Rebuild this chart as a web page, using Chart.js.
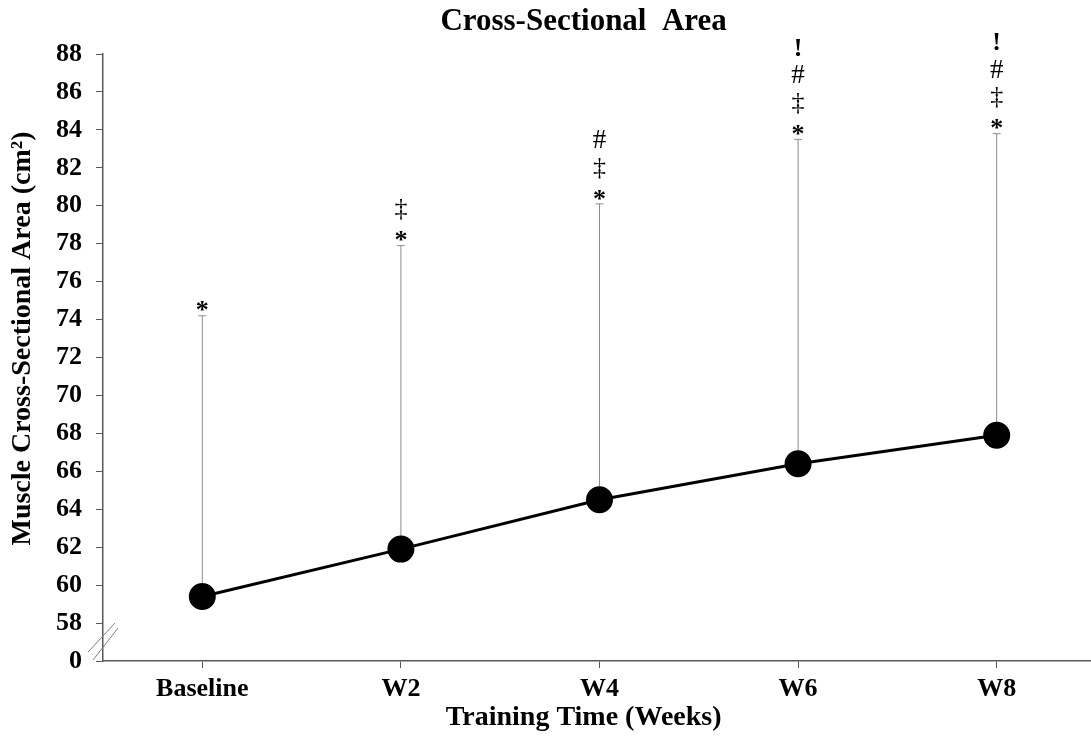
<!DOCTYPE html>
<html>
<head>
<meta charset="utf-8">
<script src="https://cdn.jsdelivr.net/npm/chart.js@4.4.1/dist/chart.umd.min.js"></script>
<style>
  html, body { margin: 0; padding: 0; background: #fff; overflow: hidden; }
  /* plot runs a few pixels past the right edge in the original */
  #wrap { width: 1096px; height: 736px; }
</style>
</head>
<body>
<div id="wrap"><canvas id="csa"></canvas></div>
<script>
const weeks = ['Baseline', 'W2', 'W4', 'W6', 'W8'];
const csaMean = [59.4, 61.9, 64.5, 66.4, 67.9];
const csaUpper = [74.2, 77.9, 80.1, 83.5, 83.8];
const sigMarks = [['*'], ['*', '\u2021'], ['*', '\u2021', '#'], ['*', '\u2021', '#', '!'], ['*', '\u2021', '#', '!']];
const yTicks = [56, 58, 60, 62, 64, 66, 68, 70, 72, 74, 76, 78, 80, 82, 84, 86, 88];
const yTickLabels = ['0', '58', '60', '62', '64', '66', '68', '70', '72', '74', '76', '78', '80', '82', '84', '86', '88'];
const chartTitle = 'Cross-Sectional  Area';
const xTitle = 'Training Time (Weeks)';
const yTitle = 'Muscle Cross-Sectional Area (cm\u00b2)';

const serif = "'Liberation Serif', 'Times New Roman', serif";
const axisColor = '#595959';

// font per symbol: * and ! are bold, the others plain
const markFont = {
    '*': 'bold 26px ',
    '!': 'bold 26px ',
    '#': '27px ',
    '\u2021': '26px '
};

// upward-only error bars plus the significance symbols above them
const errorBars = {
    id: 'errorBars',
    beforeDatasetsDraw(chart) {
        const ctx = chart.ctx;
        const meta = chart.getDatasetMeta(0);
        const y = chart.scales.y;
        ctx.save();
        ctx.strokeStyle = '#8c8c8c';
        ctx.lineWidth = 1;
        meta.data.forEach((pt, i) => {
            const top = y.getPixelForValue(csaUpper[i]);
            ctx.beginPath();
            ctx.moveTo(pt.x, pt.y);
            ctx.lineTo(pt.x, top);
            ctx.moveTo(pt.x - 4, top);
            ctx.lineTo(pt.x + 4, top);
            ctx.stroke();
        });
        ctx.restore();
    },
    afterDatasetsDraw(chart) {
        const ctx = chart.ctx;
        const meta = chart.getDatasetMeta(0);
        const y = chart.scales.y;
        ctx.save();
        ctx.fillStyle = '#000';
        ctx.textAlign = 'center';
        ctx.textBaseline = 'middle';
        meta.data.forEach((pt, i) => {
            const top = y.getPixelForValue(csaUpper[i]);
            sigMarks[i].forEach((s, j) => {
                ctx.font = markFont[s] + serif;
                const dy = s === '*' ? 4 : 9;
                ctx.fillText(s, pt.x, top - dy - j * 27);
            });
        });
        ctx.restore();
    }
};

// axis break marks and the three titles (the originals sit off-centre)
const decorations = {
    id: 'decorations',
    afterDraw(chart) {
        const ctx = chart.ctx;
        const xs = chart.scales.x;
        const ys = chart.scales.y;
        const x0 = chart.chartArea.left;
        const y0 = ys.getPixelForValue(57);
        ctx.save();
        ctx.strokeStyle = '#7f7f7f';
        ctx.lineWidth = 1;
        ctx.beginPath();
        ctx.moveTo(x0 - 15, y0 + 10);
        ctx.lineTo(x0 + 12, y0 - 19);
        ctx.moveTo(x0 - 10, y0 + 18);
        ctx.lineTo(x0 + 15, y0 - 14);
        ctx.stroke();

        ctx.fillStyle = '#000';
        ctx.textAlign = 'center';
        ctx.textBaseline = 'middle';
        const midX = xs.getPixelForValue(1.92);
        ctx.font = 'bold 31px ' + serif;
        ctx.fillText(chartTitle, midX, 22);
        ctx.font = 'bold 28px ' + serif;
        ctx.fillText(xTitle, midX, 718);

        ctx.translate(23, ys.getPixelForValue(73));
        ctx.rotate(-Math.PI / 2);
        ctx.font = 'bold 28px ' + serif;
        ctx.fillText(yTitle, 0, 0);
        ctx.restore();
    }
};

new Chart(document.getElementById('csa'), {
    type: 'line',
    data: {
        labels: weeks,
        datasets: [{
            data: csaMean,
            borderColor: '#000',
            borderWidth: 3,
            backgroundColor: '#000',
            pointBackgroundColor: '#000',
            pointBorderColor: '#000',
            pointRadius: 12,
            tension: 0
        }]
    },
    options: {
        responsive: true,
        maintainAspectRatio: false,
        animation: false,
        layout: { autoPadding: false, padding: { top: 54, right: 0, bottom: 0, left: 0 } },
        plugins: {
            legend: { display: false },
            tooltip: { enabled: false },
            title: { display: false }
        },
        scales: {
            x: {
                offset: true,
                grid: { drawOnChartArea: false, offset: false, drawTicks: true, tickLength: 7, color: axisColor },
                border: { display: true, color: axisColor, width: 1.5 },
                ticks: { color: '#000', padding: 6, font: { family: serif, size: 26, weight: 'bold' } },
                afterFit(scale) {
                    scale.height = 75;
                    scale.paddingLeft = 0;
                    scale.paddingRight = 0;
                }
            },
            y: {
                min: 56,
                max: 88,
                afterBuildTicks(scale) { scale.ticks = yTicks.map(v => ({ value: v })); },
                grid: { drawOnChartArea: false, drawTicks: true, tickLength: 7, color: axisColor },
                border: { display: true, color: axisColor, width: 1.5 },
                ticks: {
                    color: '#000',
                    padding: 14,
                    font: { family: serif, size: 26, weight: 'bold' },
                    callback(value) { return yTickLabels[yTicks.indexOf(value)]; }
                },
                afterFit(scale) { scale.width = 103; }
            }
        }
    },
    plugins: [errorBars, decorations]
});
</script>
</body>
</html>
